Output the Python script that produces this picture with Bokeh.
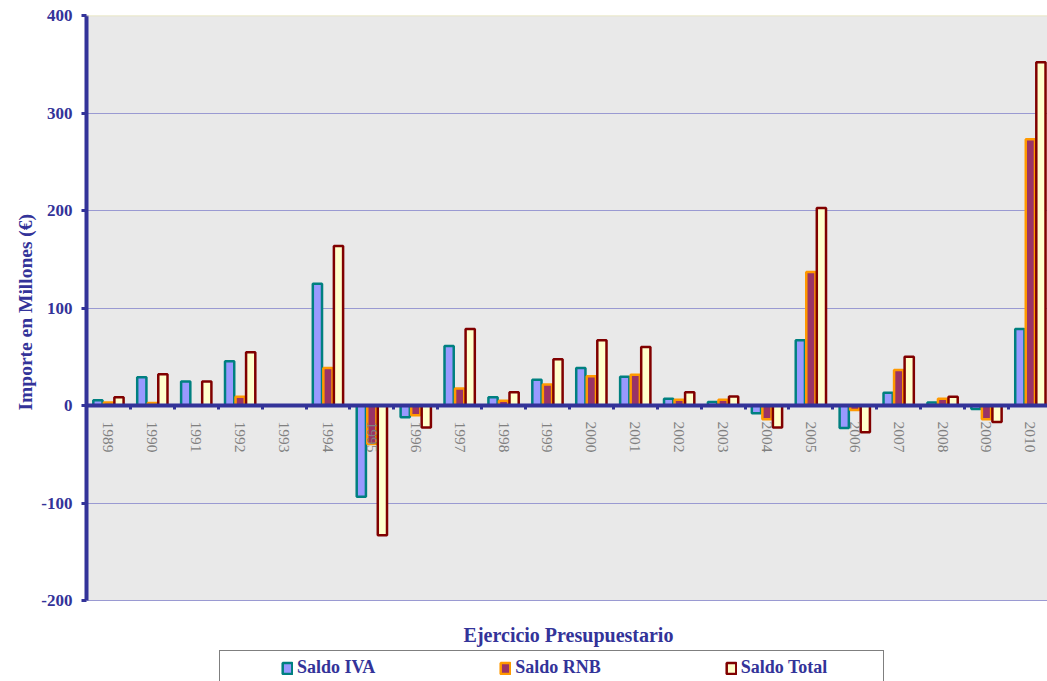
import math
import numpy as np
from bokeh.plotting import figure
from bokeh.models import (Range1d, FixedTicker, Legend, LegendItem, Label, ColumnDataSource,
                          Span, Title)
from bokeh.embed import file_html
from bokeh.resources import INLINE

# ---------------- data ----------------
years = ["1989", "1990", "1991", "1992", "1993", "1994", "1995", "1996", "1997", "1998", "1999",
         "2000", "2001", "2002", "2003", "2004", "2005", "2006", "2007", "2008", "2009", "2010"]
saldo_iva = [5.5, 29, 24.5, 45.5, 0, 125, -93.5, -12, 61, 8.5, 26.5,
             38.5, 29.5, 7, 3.5, -8, 67, -23, 13, 3, -3.5, 78.5]
saldo_rnb = [3, 2.5, 0, 9, 0, 38.5, -39.5, -10, 17.5, 5, 21.5,
             30, 31.5, 6, 6, -14, 137, -4.5, 36.5, 7, -14, 273]
saldo_total = [8.5, 32, 24.5, 54.5, 0, 163.5, -133, -22.5, 78.5, 13.5, 47.5,
               67, 60, 13.5, 9.3, -22.5, 202.5, -27.5, 50, 9, -17, 352]
y_ticks = [-200, -100, 0, 100, 200, 300, 400]
series_names = ["Saldo IVA", "Saldo RNB", "Saldo Total"]

# ---------------- styles / layout ----------------
fill_colors = ["#9999FF", "#993366", "#FFFFCC"]
line_colors = ["#008080", "#FF9900", "#800000"]
offsets = [-0.24, 0.0, 0.24]
NAVY = "#333399"
SERIF = "Liberation Serif"

W, H = 1047, 681
LEFT, TOP = 86, 15
PLOT_H = 585                      # pixel height of the textured plot area
EXTRA = H - TOP - PLOT_H          # white area below the plot area (inside frame)

n = len(years)
centers = np.arange(n) + 0.5
boundaries = np.arange(n + 1)
y_span = y_ticks[-1] - y_ticks[0]
y_start = y_ticks[0] - EXTRA * y_span / PLOT_H

p = figure(width=W, height=H, output_backend="svg", toolbar_location=None,
           x_range=Range1d(0, n - 0.11), y_range=Range1d(y_start, y_ticks[-1]),
           min_border_left=LEFT, min_border_right=0, min_border_top=TOP, min_border_bottom=0,
           background_fill_color="white", border_fill_color="white",
           outline_line_color=None)

# plot area background
p.quad(left=[0], right=[n], bottom=[y_ticks[0]], top=[y_ticks[-1]],
       fill_color="#e9e9e9", line_color=None, level="image")
p.add_layout(Span(location=y_ticks[-1], dimension="width", line_color="#e6e4b8", line_width=1.5))

renderers = []
for vals, off, fc, lc in zip([saldo_iva, saldo_rnb, saldo_total], offsets, fill_colors, line_colors):
    src = ColumnDataSource(dict(x=centers + off, top=vals))
    r = p.vbar(x="x", top="top", bottom=0, width=0.21, source=src,
               fill_color=fc, line_color=lc, line_width=2.5)
    renderers.append(r)

# x axis placed at zero
xa = p.xaxis[0]
xa.fixed_location = 0
xa.ticker = FixedTicker(ticks=list(centers), minor_ticks=list(boundaries))
xa.major_label_overrides = {float(c): y for c, y in zip(centers, years)}
xa.major_label_orientation = -math.pi / 2
xa.major_tick_line_color = None
xa.major_tick_out = 0
xa.major_tick_in = 0
xa.minor_tick_line_color = NAVY
xa.minor_tick_line_width = 3
xa.minor_tick_out = 4
xa.minor_tick_in = 0
xa.axis_line_color = NAVY
xa.axis_line_width = 4
xa.major_label_text_color = "#808080"
xa.major_label_text_font = SERIF
xa.major_label_text_font_size = "15.5px"
xa.major_label_standoff = 12

# y axis
ya = p.yaxis[0]
ya.bounds = (y_ticks[0], y_ticks[-1])
ya.ticker = FixedTicker(ticks=y_ticks, minor_ticks=[])
ya.major_label_overrides = {t: str(t) for t in y_ticks}
ya.major_label_text_font = SERIF
ya.major_label_text_font_style = "bold"
ya.major_label_text_font_size = "17px"
ya.major_label_text_color = NAVY
ya.major_label_standoff = 9
ya.axis_line_color = NAVY
ya.axis_line_width = 4
ya.major_tick_line_color = NAVY
ya.major_tick_line_width = 3
ya.major_tick_out = 5
ya.major_tick_in = 0
ya.minor_tick_line_color = None

# y-axis title, placed along the textured plot area (offset measured from the frame bottom)
p.add_layout(Title(text="Importe en Millones (€)", align="left", offset=271,
                   standoff=6, text_font=SERIF, text_font_style="bold",
                   text_font_size="19.5px", text_color=NAVY), "left")

p.xgrid.visible = False
p.ygrid.ticker = FixedTicker(ticks=y_ticks[:-1])
p.ygrid.grid_line_color = "#9a9ad2"
p.ygrid.grid_line_width = 1

# x-axis title (screen units relative to the frame's bottom-left)
p.add_layout(Label(x=482, y=H - 634, x_units="screen", y_units="screen",
                   text="Ejercicio Presupuestario", text_align="center", text_baseline="middle",
                   text_font=SERIF, text_font_style="bold", text_font_size="20px",
                   text_color=NAVY))

# legend frame (box) and legend items
dummy = p.vbar(x=[], top=[], width=0.1, fill_alpha=0, line_alpha=0)
box = Legend(items=[LegendItem(label=" ", renderers=[dummy])], location=(133, -2),
             orientation="horizontal", glyph_width=0, glyph_height=21, label_height=21,
             label_standoff=0, label_width=653, padding=5, margin=0,
             border_line_color="black", border_line_width=1.5,
             background_fill_color="white", background_fill_alpha=1)
p.add_layout(box, "center")

leg = Legend(items=[LegendItem(label=nm, renderers=[r]) for nm, r in zip(series_names, renderers)],
             location=(195, 3), orientation="horizontal", glyph_width=12, glyph_height=14,
             label_standoff=4, spacing=124, padding=0, margin=0, border_line_color=None,
             background_fill_alpha=0, label_text_font=SERIF, label_text_font_style="bold",
             label_text_font_size="18px", label_text_color=NAVY)
p.add_layout(leg, "center")

open("out.html", "w").write(file_html(p, INLINE))
